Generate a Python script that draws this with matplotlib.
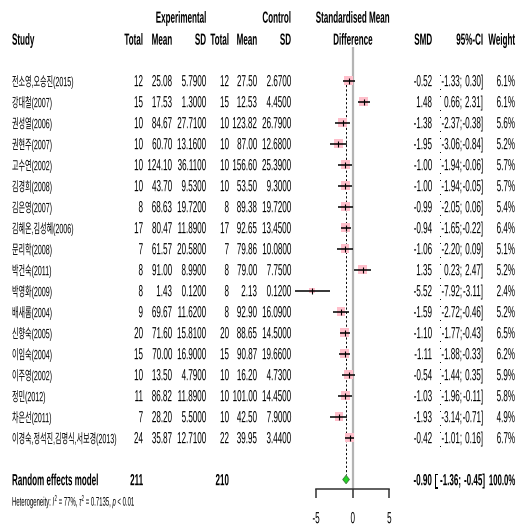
import numpy as np
import matplotlib
matplotlib.use("Agg")
import matplotlib.pyplot as plt
from matplotlib import transforms
from matplotlib.patheffects import AbstractPathEffect
from matplotlib.transforms import Affine2D

# values
studies = ["전소영,오승진(2015)", "강대철(2007)", "권성열(2006)", "권현주(2007)",
           "고수연(2002)", "김경희(2008)", "김은영(2007)", "김혜온,김성혜(2006)",
           "문리학(2008)", "박건숙(2011)", "박영화(2009)", "배새롬(2004)",
           "신향숙(2005)", "이임숙(2004)", "이주영(2002)", "정민(2012)",
           "차은선(2011)", "이경숙,정석진,김명식,서보경(2013)"]
n_exp = [12, 15, 10, 10, 10, 10, 8, 17, 7, 8, 8, 9, 20, 15, 10, 11, 7, 24]
mean_exp = [25.08, 17.53, 84.67, 60.70, 124.10, 43.70, 68.63, 80.47, 61.57,
            91.00, 1.43, 69.67, 71.60, 70.00, 13.50, 86.82, 28.20, 35.87]
sd_exp = [5.79, 1.30, 27.71, 13.16, 36.11, 9.53, 19.72, 11.89, 20.58,
          8.99, 0.12, 11.62, 15.81, 16.90, 4.79, 11.89, 5.50, 12.71]
n_ctl = [12, 15, 10, 10, 10, 10, 8, 17, 7, 8, 8, 8, 20, 15, 10, 10, 10, 22]
mean_ctl = [27.50, 12.53, 123.82, 87.00, 156.60, 53.50, 89.38, 92.65, 79.86,
            79.00, 2.13, 92.90, 88.65, 90.87, 16.20, 101.00, 42.50, 39.95]
sd_ctl = [2.67, 4.45, 26.79, 12.68, 25.39, 9.30, 19.72, 13.45, 10.08,
          7.75, 0.12, 16.09, 14.50, 19.66, 4.73, 14.45, 7.90, 3.44]
smd = [-0.52, 1.48, -1.38, -1.95, -1.00, -1.00, -0.99, -0.94, -1.06,
       1.35, -5.52, -1.59, -1.10, -1.11, -0.54, -1.03, -1.93, -0.42]
ci_low = [-1.33, 0.66, -2.37, -3.06, -1.94, -1.94, -2.05, -1.65, -2.20,
          0.23, -7.92, -2.72, -1.77, -1.88, -1.44, -1.96, -3.14, -1.01]
ci_high = [0.30, 2.31, -0.38, -0.84, -0.06, -0.05, 0.06, -0.22, 0.09,
           2.47, -3.11, -0.46, -0.43, -0.33, 0.35, -0.11, -0.71, 0.16]
weight = [6.1, 6.1, 5.6, 5.2, 5.7, 5.7, 5.4, 6.4, 5.1,
          5.2, 2.4, 5.2, 6.5, 6.2, 5.9, 5.8, 4.9, 6.7]

pooled_smd = -0.90
pooled_low = -1.36
pooled_high = -0.45
total_exp = 211
total_ctl = 210
i2 = 77
tau2 = 0.7135
x_ticks = [-5, 0, 5]

# layout (pixels of the 523x530 picture)
W, H = 523, 530
ZERO_PX = 352.7
UNIT_PX = 7.33
ROW0_PX = 80.5
ROW_PX = 21.0

# the reference text is tall and narrow: small font, stretched upwards
FS = 5.8
SY = 2.0
NUM = ["Liberation Sans", "DejaVu Sans"]
NAME = ["Liberation Sans", "Noto Sans CJK KR", "DejaVu Sans"]
BASE = 5.7 / ROW_PX

plt.rcParams["axes.unicode_minus"] = False
plt.rcParams["mathtext.fontset"] = "custom"
plt.rcParams["mathtext.rm"] = "Liberation Sans"
plt.rcParams["mathtext.it"] = "Liberation Sans:italic"


class Tall(AbstractPathEffect):
    # stretch glyphs vertically around the baseline
    def __init__(self, sy):
        super().__init__()
        self.sy = sy

    def draw_path(self, renderer, gc, tpath, affine, rgbFace=None):
        y0 = affine.get_matrix()[1, 2]
        stretch = Affine2D().translate(0, -y0).scale(1, self.sy).translate(0, y0)
        renderer.draw_path(gc, tpath, affine + stretch, rgbFace)


def row_of(px):
    return 1 + (px - ROW0_PX) / ROW_PX


fig = plt.figure(figsize=(W / 100, H / 100), dpi=100)
ax = fig.add_axes([290 / W, 0, 120 / W, 1])
ax.set_xlim((290 - ZERO_PX) / UNIT_PX, (410 - ZERO_PX) / UNIT_PX)
ax.set_ylim(row_of(H), row_of(0))
ax.patch.set_alpha(0)
mixed = transforms.blended_transform_factory(fig.transFigure, ax.transData)


def put(xpx, row, s, ha="right", bold=False, size=FS, family=NUM, sy=SY):
    t = ax.text(xpx / W, row + BASE, s, transform=mixed, ha=ha, va="baseline",
                fontsize=size, fontweight="bold" if bold else "normal",
                family=family, color="black")
    t.set_path_effects([Tall(sy)])
    return t


rows = np.arange(1, len(studies) + 1)
sum_row = len(studies) + 2

# headers
top = row_of(17)
sub = row_of(39)
put(206, top, "Experimental", bold=True)
put(291, top, "Control", bold=True)
put(ZERO_PX, top, "Standardised Mean", ha="center", bold=True)
put(12, sub, "Study", ha="left", bold=True)
for xpx, s in [(143, "Total"), (172, "Mean"), (206, "SD"), (229, "Total"),
               (257, "Mean"), (291, "SD"), (432, "SMD"), (483, "95%-CI"),
               (515, "Weight")]:
    put(xpx, sub, s, bold=True)
put(ZERO_PX, sub, "Difference", ha="center", bold=True)

# study rows
for i, r in enumerate(rows):
    put(12, r, studies[i], ha="left", size=5.1, family=NAME, sy=1.9)
    put(143, r, f"{n_exp[i]}")
    put(172, r, f"{mean_exp[i]:.2f}")
    put(206, r, f"{sd_exp[i]:.4f}")
    put(229, r, f"{n_ctl[i]}")
    put(257, r, f"{mean_ctl[i]:.2f}")
    put(291, r, f"{sd_ctl[i]:.4f}")
    put(432, r, f"{smd[i]:.2f}")
    put(439, r, "[", ha="left")
    put(462, r, f"{ci_low[i]:.2f};")
    put(483, r, f"{ci_high[i]:.2f}]")
    put(515, r, f"{weight[i]:.1f}%")

# pooled row
put(12, sum_row, "Random effects model", ha="left", bold=True)
put(143, sum_row, f"{total_exp}", bold=True)
put(229, sum_row, f"{total_ctl}", bold=True)
put(432, sum_row, f"{pooled_smd:.2f}", bold=True)
put(435, sum_row, "[", ha="left", bold=True)
put(461, sum_row, f"{pooled_low:.2f};", bold=True)
put(485, sum_row, f"{pooled_high:.2f}]", bold=True)
put(515, sum_row, "100.0%", bold=True, size=5.6)
put(12, row_of(500), r"Heterogeneity: $I^2$ = %d%%, $\tau^2$ = %.4f, $p$ < 0.01" % (i2, tau2),
    ha="left", size=4.3, sy=2.1)

# reference lines
axis_row = row_of(489)
ax.vlines(0, row_of(47), axis_row, color="#b4b4b4", lw=1.6, zorder=1)
dh = 4.2 / ROW_PX
ax.vlines(pooled_smd, row_of(76), sum_row - dh, color="black", lw=0.7,
          linestyles=(0, (2.2, 2.2)), zorder=2)

# squares, CIs and point ticks
side_pt = 3.65 * np.sqrt(weight) * 0.72
ax.scatter(smd, rows, s=side_pt ** 2, marker="s", color="#ffbfcb", lw=0, zorder=3)
ax.hlines(rows, ci_low, ci_high, color="black", lw=1.1, zorder=4)
ax.plot(smd, rows, ls="none", marker="|", ms=4, mew=0.8, color="black", zorder=5)

# pooled diamond
ax.fill([pooled_low, pooled_smd, pooled_high, pooled_smd],
        [sum_row, sum_row - dh, sum_row, sum_row + dh],
        fc="#22d422", ec="#3c7a3c", lw=0.6, zorder=5)

# x axis
for side in ["left", "right", "top"]:
    ax.spines[side].set_visible(False)
ax.yaxis.set_visible(False)
ax.spines["bottom"].set_position(("data", axis_row))
ax.spines["bottom"].set_bounds(x_ticks[0], x_ticks[-1])
ax.spines["bottom"].set_linewidth(1.1)
ax.spines["bottom"].set_color("#333333")
ax.set_xticks(x_ticks)
ax.set_xticklabels([str(v) for v in x_ticks])
ax.tick_params(axis="x", direction="out", length=6.5, width=1.1, color="#333333",
               pad=14.5, labelsize=FS)
for tick in ax.xaxis.get_major_ticks():
    tick.label1.set_fontfamily(NUM)
    tick.label1.set_path_effects([Tall(SY)])

fig.savefig("out.png", dpi=100)
